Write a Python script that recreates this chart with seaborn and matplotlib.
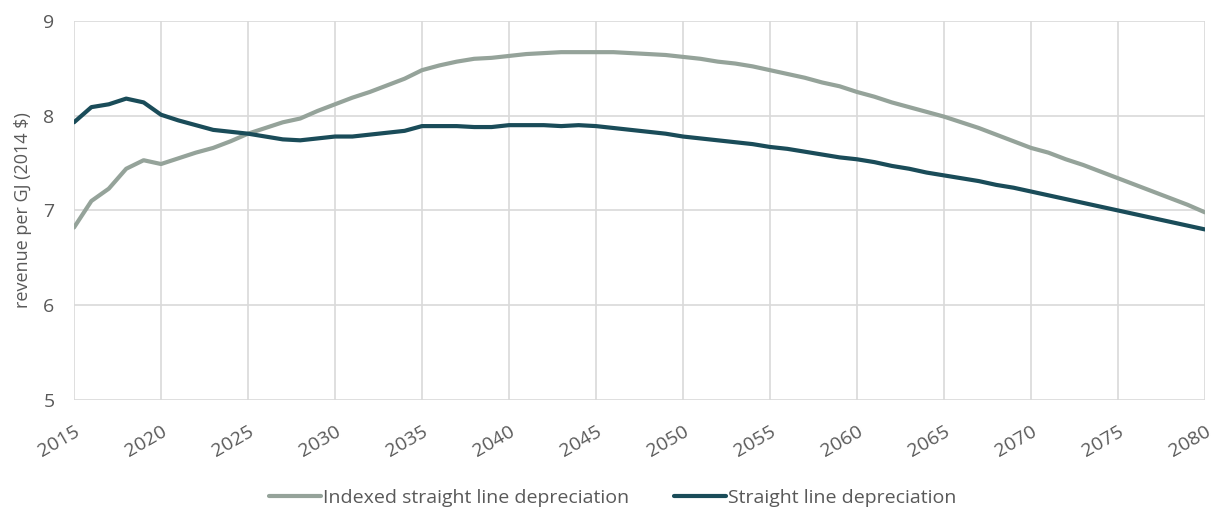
import numpy as np
import pandas as pd
import seaborn as sns
import matplotlib.pyplot as plt

# data
years = np.arange(2015, 2081)
indexed = [6.82, 7.10, 7.23, 7.44, 7.53, 7.49, 7.55, 7.61, 7.66, 7.73,
           7.81, 7.87, 7.93, 7.97, 8.05, 8.12, 8.19, 8.25, 8.32, 8.39,
           8.48, 8.53, 8.57, 8.60, 8.61, 8.63, 8.65, 8.66, 8.67, 8.67,
           8.67, 8.67, 8.66, 8.65, 8.64, 8.62, 8.60, 8.57, 8.55, 8.52,
           8.48, 8.44, 8.40, 8.35, 8.31, 8.25, 8.20, 8.14, 8.09, 8.04,
           7.99, 7.93, 7.87, 7.80, 7.73, 7.66, 7.61, 7.54, 7.48, 7.41,
           7.34, 7.27, 7.20, 7.13, 7.06, 6.98]
straight = [7.93, 8.09, 8.12, 8.18, 8.14, 8.01, 7.95, 7.90, 7.85, 7.83,
            7.81, 7.78, 7.75, 7.74, 7.76, 7.78, 7.78, 7.80, 7.82, 7.84,
            7.89, 7.89, 7.89, 7.88, 7.88, 7.90, 7.90, 7.90, 7.89, 7.90,
            7.89, 7.87, 7.85, 7.83, 7.81, 7.78, 7.76, 7.74, 7.72, 7.70,
            7.67, 7.65, 7.62, 7.59, 7.56, 7.54, 7.51, 7.47, 7.44, 7.40,
            7.37, 7.34, 7.31, 7.27, 7.24, 7.20, 7.16, 7.12, 7.08, 7.04,
            7.00, 6.96, 6.92, 6.88, 6.84, 6.80]
series_names = ['Indexed straight line depreciation', 'Straight line depreciation']
colors = ['#95a39a', '#1a4c59']

df = pd.DataFrame({
    'year': np.concatenate([years, years]),
    'value': indexed + straight,
    'series': [series_names[0]] * len(years) + [series_names[1]] * len(years),
})

sns.set_style('white')
plt.rcParams['font.family'] = ['Open Sans', 'DejaVu Sans']
text_color = '#595959'
grid_color = '#d9d9d9'

fig, ax = plt.subplots(figsize=(12.13, 5.09), dpi=100)
fig.subplots_adjust(left=0.061, right=0.9934, top=0.959, bottom=0.214)

sns.lineplot(data=df, x='year', y='value', hue='series', palette=colors,
             linewidth=3.0, ax=ax, legend=True)

ax.set_xlim(2015, 2080)
ax.set_ylim(5, 9)
ax.set_xticks(range(2015, 2081, 5))
ax.set_yticks([5, 6, 7, 8, 9])
ax.grid(True, color=grid_color, linewidth=1.2)
ax.set_axisbelow(True)
for s in ax.spines.values():
    s.set_visible(False)

ax.tick_params(axis='x', colors=grid_color, length=5, width=1.2, labelcolor=text_color,
               labelsize=14, pad=11)
ax.tick_params(axis='y', length=0, labelcolor=text_color, labelsize=14, pad=14)
plt.setp(ax.get_xticklabels(), rotation=30, ha='right', rotation_mode='anchor')

ax.set_xlabel('')
ax.set_ylabel('revenue per GJ (2014 $)', color=text_color, fontsize=13, labelpad=8)

ax.legend_.remove()
handles, labels = ax.get_legend_handles_labels()
fig.legend(handles, labels, loc='lower center', bbox_to_anchor=(0.505, -0.03), ncol=2,
           frameon=False, fontsize=14, handlelength=2.7, handletextpad=0.1,
           columnspacing=2.3, labelcolor=text_color)

plt.savefig('out.png', dpi=100)
